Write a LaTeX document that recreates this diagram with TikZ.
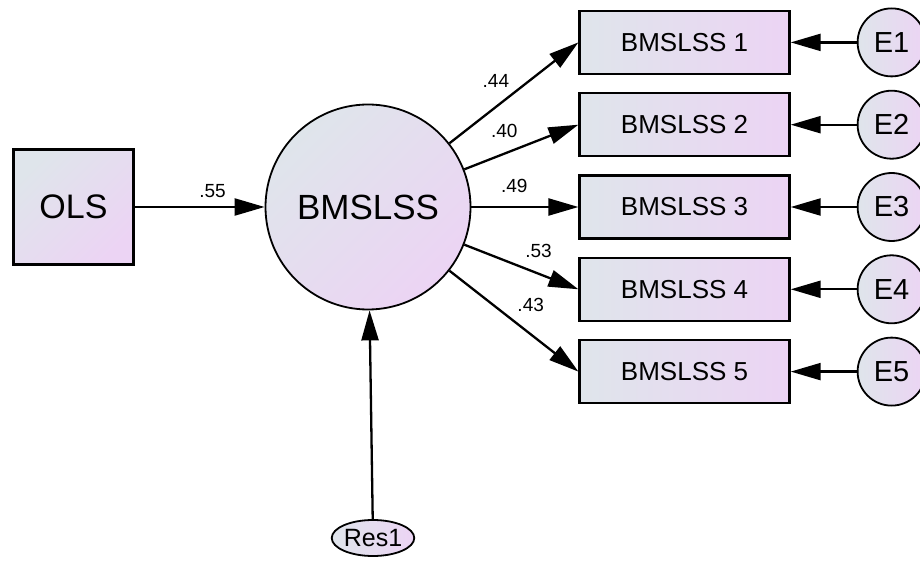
\documentclass[tikz,border=0pt]{standalone}
\usepackage{fontspec}
\setmainfont{Liberation Sans}
\usetikzlibrary{shapes.geometric, arrows.meta, positioning}

\definecolor{fillL}{RGB}{223,229,235}
\definecolor{fillR}{RGB}{236,212,244}

\begin{document}
\begin{tikzpicture}[x=1pt, y=-1pt, node distance=17pt,
  obs/.style={draw, rectangle, line width=2.3pt, left color=fillL, right color=fillR, minimum width=210pt, minimum height=63pt, font=\fontsize{26}{30}\selectfont},
  err/.style={draw, circle, line width=1.8pt, left color=fillL, right color=fillR, minimum size=68pt, inner sep=0pt, font=\fontsize{29}{34}\selectfont},
  arr/.style={-{Triangle[length=30pt, width=17pt]}, line width=2.3pt},
  coef/.style={inner sep=0pt, font=\fontsize{19}{22}\selectfont}]
\useasboundingbox (0,0) rectangle (920,561);

\node (lat) [draw, circle, line width=1.8pt, left color=fillL, right color=fillR, shading angle=45, minimum size=205pt, inner sep=0pt, font=\fontsize{35}{40}\selectfont] at (368,207) {BMSLSS};
\node (ols) [left=130pt of lat, draw, rectangle, line width=2.3pt, left color=fillL, right color=fillR, shading angle=45, minimum width=120pt, minimum height=115pt, font=\fontsize{34}{40}\selectfont] {OLS};

\node (ind3) [obs, right=107pt of lat] {BMSLSS 3};
\node (ind2) [obs, above=of ind3] {BMSLSS 2};
\node (ind1) [obs, above=of ind2] {BMSLSS 1};
\node (ind4) [obs, below=of ind3] {BMSLSS 4};
\node (ind5) [obs, below=of ind4] {BMSLSS 5};

\node (e1) [err, right=66pt of ind1] {E1};
\node (e2) [err, right=66pt of ind2] {E2};
\node (e3) [err, right=66pt of ind3] {E3};
\node (e4) [err, right=66pt of ind4] {E4};
\node (e5) [err, right=66pt of ind5] {E5};

\node (res) [draw, ellipse, line width=1.8pt, left color=fillL, right color=fillR, minimum width=78pt, minimum height=36pt, inner sep=0pt, font=\fontsize{25}{29}\selectfont] at (373,538) {Res1};

% paths
\draw[arr] (ols) -- node[coef, pos=0.6, above=8pt] {.55} (lat);
\draw[arr] (lat) -- node[coef, pos=0.36, above=18pt] {.44} (ind1.west);
\draw[arr] (lat) -- node[coef, pos=0.35, above=15pt] {.40} (ind2.west);
\draw[arr] (lat) -- node[coef, pos=0.4, above=13pt] {.49} (ind3.west);
\draw[arr] (lat) -- node[coef, pos=0.65, above=15pt] {.53} (ind4.west);
\draw[arr] (lat) -- node[coef, pos=0.63, above=21pt] {.43} (ind5.west);

% errors
\draw[arr] (e1) -- (ind1);
\draw[arr] (e2) -- (ind2);
\draw[arr] (e3) -- (ind3);
\draw[arr] (e4) -- (ind4);
\draw[arr] (e5) -- (ind5);
\draw[arr] (res) -- (lat);
\end{tikzpicture}
\end{document}
